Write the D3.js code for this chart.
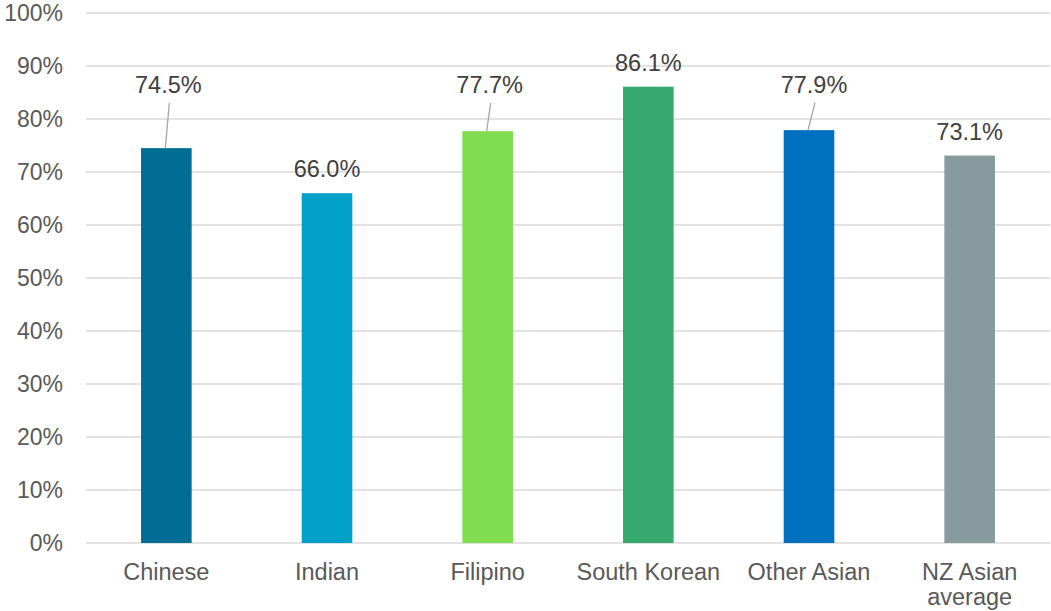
<!DOCTYPE html>
<html>
<head>
<meta charset="utf-8">
<script src="https://cdn.jsdelivr.net/npm/d3@7"></script>
<style>
  html, body { margin: 0; padding: 0; background: #fff; }
  svg { display: block; }
  text { font-family: "Liberation Sans", Arial, sans-serif; }
</style>
</head>
<body>
<svg id="chart" width="1051" height="611"></svg>
<script>
// Share of respondents by Asian ethnic group
const categories = ["Chinese", "Indian", "Filipino", "South Korean", "Other Asian", "NZ Asian average"];
const values = [74.5, 66.0, 77.7, 86.1, 77.9, 73.1];
const barColors = ["#016d94", "#00a0c9", "#81dd50", "#37a86e", "#0070c0", "#879a9e"];
const yTicks = [0, 10, 20, 30, 40, 50, 60, 70, 80, 90, 100];

const width = 1051, height = 611;
const margin = { top: 13, right: 1, bottom: 68, left: 86 };

const svg = d3.select("#chart");

const x = d3.scaleBand()
  .domain(categories)
  .range([margin.left, width - margin.right])
  .paddingInner(0.685)
  .paddingOuter(0.3425);

const y = d3.scaleLinear()
  .domain([0, 100])
  .range([height - margin.bottom, margin.top]);

// Horizontal gridlines
svg.append("g")
  .selectAll("line")
  .data(yTicks)
  .join("line")
  .attr("x1", margin.left)
  .attr("x2", width - margin.right)
  .attr("y1", d => y(d))
  .attr("y2", d => y(d))
  .attr("stroke", "#d9d9d9")
  .attr("stroke-width", 1.5);

// Y axis labels
const yAxis = svg.append("g")
  .attr("transform", `translate(${margin.left - 23},0)`)
  .call(d3.axisLeft(y).tickValues(yTicks).tickFormat(d => d + "%").tickSize(0).tickPadding(0));
yAxis.select(".domain").remove();
yAxis.selectAll("text")
  .attr("fill", "#595959")
  .style("font-size", "23px")
  .style("font-family", "'Liberation Sans', Arial, sans-serif");

// Bars
const rows = categories.map((c, i) => ({ cat: c, value: values[i], color: barColors[i] }));

svg.append("g")
  .selectAll("rect")
  .data(rows)
  .join("rect")
  .attr("x", d => x(d.cat))
  .attr("width", x.bandwidth())
  .attr("y", d => y(d.value))
  .attr("height", d => y(0) - y(d.value))
  .attr("fill", d => d.color);

// Labels that were moved up, with a leader line back to the bar
const movedLabel = {
  "Chinese": { level: 84.9, dx: 2 },
  "Filipino": { level: 84.9, dx: 2 },
  "Other Asian": { level: 85.0, dx: 5 }
};

const labels = svg.append("g");
rows.forEach(d => {
  const cx = x(d.cat) + x.bandwidth() / 2;
  const moved = movedLabel[d.cat];
  const lx = moved ? cx + moved.dx : cx;
  const ly = moved ? y(moved.level) : y(d.value) - 16;
  if (moved) {
    labels.append("line")
      .attr("x1", lx + 1)
      .attr("y1", ly + 10)
      .attr("x2", cx - 1)
      .attr("y2", y(d.value))
      .attr("stroke", "#a6a6a6")
      .attr("stroke-width", 1.3);
  }
  labels.append("text")
    .attr("x", lx)
    .attr("y", ly)
    .attr("text-anchor", "middle")
    .attr("fill", "#404040")
    .style("font-size", "23.5px")
    .text(d.value.toFixed(1) + "%");
});

// Category labels, wrapped to fit the band
const catG = svg.append("g");
categories.forEach(c => {
  const cx = x(c) + x.bandwidth() / 2;
  const lines = c === "NZ Asian average" ? ["NZ Asian", "average"] : [c];
  const t = catG.append("text")
    .attr("x", cx)
    .attr("y", 580)
    .attr("text-anchor", "middle")
    .attr("fill", "#595959")
    .style("font-size", "23.5px");
  lines.forEach((ln, i) => {
    t.append("tspan").attr("x", cx).attr("dy", i === 0 ? 0 : 25).text(ln);
  });
});
</script>
</body>
</html>
